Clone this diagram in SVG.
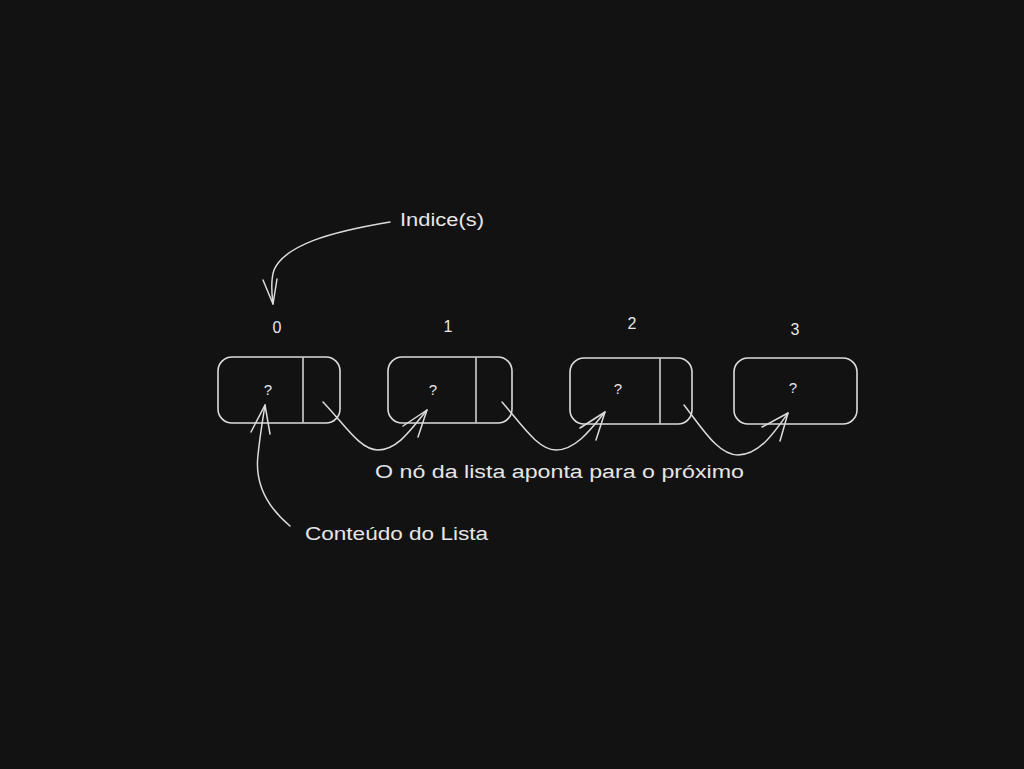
<svg xmlns="http://www.w3.org/2000/svg" width="1024" height="769" viewBox="0 0 1024 769">
<style>
.box{fill:none;stroke:#dcdcdc;stroke-width:1.6}
.ln{fill:none;stroke:#dcdcdc;stroke-width:1.5;stroke-linecap:round;stroke-linejoin:round}
text{fill:#e6e6e6;font-family:"Liberation Sans",Arial,sans-serif}
.lbl{font-size:18px}
.q{font-size:15px;text-anchor:middle}
.idx{font-size:16px;text-anchor:middle}
</style>
<rect width="1024" height="769" fill="#121212"/>
<g id="node0">
<rect class="box" x="218" y="357" width="122" height="66" rx="14"/>
<line class="ln" x1="303" y1="358" x2="303" y2="422"/>
<text class="q" x="268" y="395">?</text>
<text class="idx" x="277" y="333">0</text>
</g>
<g id="node1">
<rect class="box" x="388" y="357" width="124" height="66" rx="14"/>
<line class="ln" x1="476" y1="358" x2="476" y2="422"/>
<text class="q" x="433" y="395">?</text>
<text class="idx" x="448" y="332">1</text>
</g>
<g id="node2">
<rect class="box" x="570" y="358" width="122" height="66" rx="14"/>
<line class="ln" x1="660" y1="359" x2="660" y2="423"/>
<text class="q" x="618" y="394">?</text>
<text class="idx" x="632" y="329">2</text>
</g>
<g id="node3">
<rect class="box" x="734" y="358" width="123" height="66" rx="14"/>
<text class="q" x="793" y="393">?</text>
<text class="idx" x="795" y="335">3</text>
</g>
<g id="labels">
<text class="lbl" x="400" y="226" textLength="84" lengthAdjust="spacingAndGlyphs">Indice(s)</text>
<text class="lbl" x="375" y="478" textLength="369" lengthAdjust="spacingAndGlyphs">O nó da lista aponta para o próximo</text>
<text class="lbl" x="305" y="540" textLength="183" lengthAdjust="spacingAndGlyphs">Conteúdo do Lista</text>
</g>
<g id="connectors">
<path class="ln" d="M390,222 C330,232 285,245 274,270 C270,282 272,295 273,304"/>
<path class="ln" d="M263,280 L273,304 L277,279"/>
<path class="ln" d="M323,402 C345,425 360,450 378,450 C398,450 412,428 427,410"/>
<path class="ln" d="M403,426 L427,410 L418,437"/>
<path class="ln" d="M502,402 C522,425 538,450 556,450 C576,450 592,428 605,412"/>
<path class="ln" d="M580,428 L605,412 L596,440"/>
<path class="ln" d="M684,405 C702,428 718,455 738,455 C760,455 776,430 788,413"/>
<path class="ln" d="M762,427 L788,413 L780,441"/>
<path class="ln" d="M290,526 C265,505 255,480 258,455 C260,435 263,418 265,405"/>
<path class="ln" d="M251,432 L265,405 L270,434"/>
</g>
</svg>
